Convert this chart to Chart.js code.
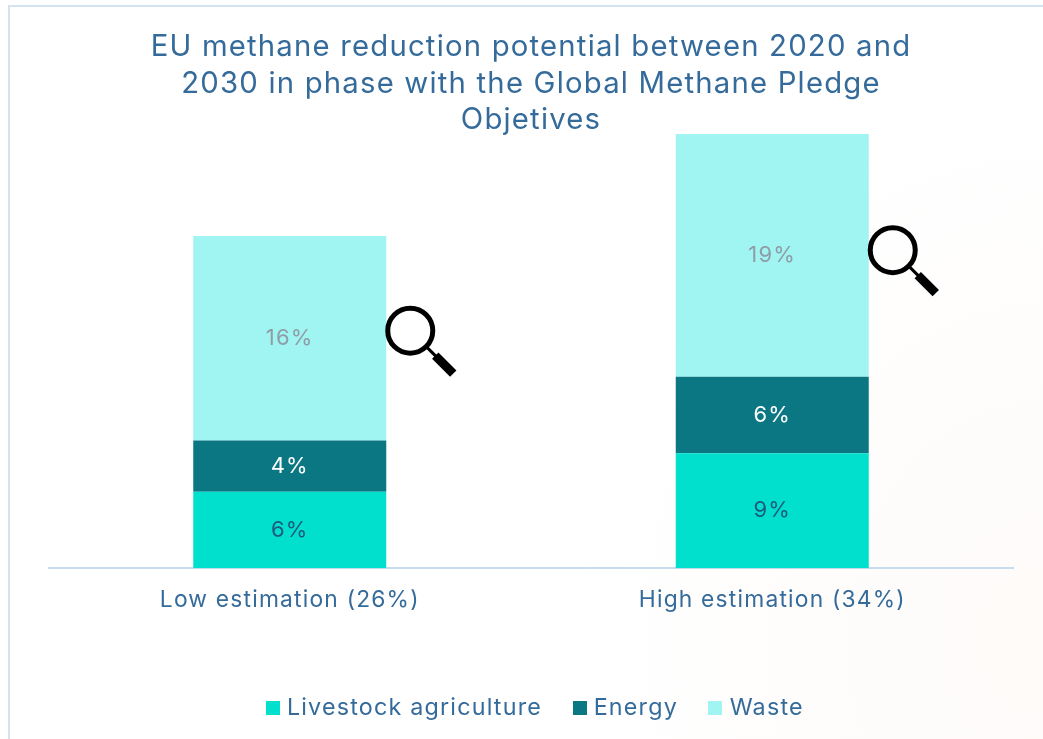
<!DOCTYPE html>
<html>
<head>
<meta charset="utf-8">
<style>
html, body { margin: 0; padding: 0; background: #fff; overflow: hidden; }
#fondo { position: absolute; left: 0; top: 0; width: 1043px; height: 739px;
  background: radial-gradient(ellipse 460px 560px at 1043px 640px, #fefbf9 0%, #ffffff 100%); }
#marco { position: absolute; left: 8px; top: 5px; width: 1100px; height: 800px; border: 2px solid #d3e3f2; }
#grafico { position: absolute; left: 0; top: 0; }
</style>
</head>
<body>
<div id="fondo"></div>
<div id="marco"></div>
<canvas id="grafico" width="1043" height="739"></canvas>
<script src="https://cdn.jsdelivr.net/npm/chart.js@4"></script>
<script>
const categories = ['Low estimation (26%)', 'High estimation (34%)'];
const livestock = [6, 9];
const energy = [4, 6];
const waste = [16, 19];
const lupaValores = [18.6, 24.9];
const titleLines = [
    'EU methane reduction potential between 2020 and',
    '2030 in phase with the Global Methane Pledge',
    'Objetives',
];

const azul = '#356b9a';
const fuente = 'Inter, sans-serif';

// square legend marker, drawn wider than the box chart.js reserves so it sits closer to the text
function cuadrito(color) {
    const c = document.createElement('canvas');
    c.width = 14;
    c.height = 14;
    const g = c.getContext('2d');
    g.fillStyle = color;
    g.fillRect(0, 0, 14, 14);
    return c;
}

// the reference font is wider than Inter; the legend sits a bit right of centre
const ajustes = {
    id: 'ajustes',
    beforeUpdate(chart) {
        chart.ctx.letterSpacing = '1.2px';
    },
    afterLayout(chart) {
        chart.legend.left += 6;
        chart.legend.right += 6;
    },
};

// labels in the middle of each bar segment
const etiquetas = {
    id: 'etiquetas',
    afterDatasetsDraw(chart) {
        const ctx = chart.ctx;
        ctx.save();
        ctx.font = '22px ' + fuente;
        ctx.textAlign = 'center';
        ctx.textBaseline = 'middle';
        chart.data.datasets.forEach((ds, i) => {
            chart.getDatasetMeta(i).data.forEach((bar, j) => {
                ctx.fillStyle = ds.labelColor;
                ctx.fillText(ds.data[j] + '%', bar.x, (bar.y + bar.base) / 2);
            });
        });
        ctx.restore();
    },
};

// magnifier next to the waste segment of each bar
const lupas = {
    id: 'lupas',
    afterDraw(chart) {
        const ctx = chart.ctx;
        chart.getDatasetMeta(2).data.forEach((bar, j) => {
            const cx = bar.x + bar.width / 2 + 24;
            const cy = chart.scales.y.getPixelForValue(lupaValores[j]);
            ctx.save();
            ctx.strokeStyle = '#000';
            ctx.lineWidth = 5;
            ctx.beginPath();
            ctx.arc(cx, cy, 22.5, 0, Math.PI * 2);
            ctx.stroke();
            ctx.lineWidth = 3;
            ctx.beginPath();
            ctx.moveTo(cx + 16, cy + 16);
            ctx.lineTo(cx + 26, cy + 26);
            ctx.stroke();
            ctx.lineWidth = 9;
            ctx.beginPath();
            ctx.moveTo(cx + 25, cy + 25);
            ctx.lineTo(cx + 43, cy + 43);
            ctx.stroke();
            ctx.restore();
        });
    },
};

const colores = ['#00e0cc', '#0a7783', '#a0f4f2'];

new Chart(document.getElementById('grafico'), {
    type: 'bar',
    data: {
        labels: categories,
        datasets: [
            { label: 'Livestock agriculture', data: livestock, backgroundColor: colores[0], pointStyle: cuadrito(colores[0]), labelColor: '#1d5a80' },
            { label: 'Energy', data: energy, backgroundColor: colores[1], pointStyle: cuadrito(colores[1]), labelColor: '#ffffff' },
            { label: 'Waste', data: waste, backgroundColor: colores[2], pointStyle: cuadrito(colores[2]), labelColor: '#8f9ea6' },
        ],
    },
    options: {
        responsive: false,
        animation: false,
        layout: { padding: { left: 48.5, right: 29.5, top: 29, bottom: 9 } },
        datasets: { bar: { barPercentage: 0.4, categoryPercentage: 1 } },
        scales: {
            x: {
                stacked: true,
                grid: { display: false, drawTicks: false },
                border: { color: '#c9dcee', width: 2 },
                ticks: { color: azul, font: { family: fuente, size: 22.8 }, padding: 18, maxRotation: 0 },
                afterFit(scale) {
                    scale.height += 30;
                },
            },
            y: { stacked: true, display: false, min: 0, max: 34 },
        },
        plugins: {
            title: {
                display: true,
                text: titleLines,
                color: azul,
                font: { family: fuente, size: 29.3, weight: 'normal', lineHeight: 1.25 },
                padding: { top: 0, bottom: -5 },
            },
            legend: {
                position: 'bottom',
                labels: {
                    color: azul,
                    font: { family: fuente, size: 23.3 },
                    usePointStyle: true,
                    pointStyleWidth: 5,
                    boxHeight: 14,
                    padding: 35,
                },
            },
            tooltip: { enabled: false },
        },
    },
    plugins: [ajustes, etiquetas, lupas],
});
</script>
</body>
</html>
